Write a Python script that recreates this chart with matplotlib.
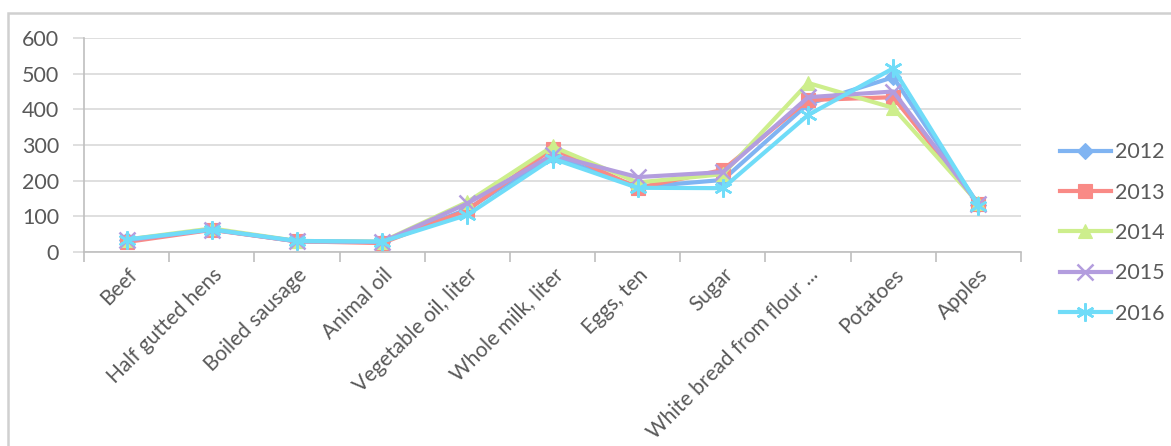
import matplotlib.pyplot as plt
from matplotlib.patches import Rectangle

categories = [
    "Beef", "Half gutted hens", "Boiled sausage", "Animal oil",
    "Vegetable oil, liter", "Whole milk, liter", "Eggs, ten", "Sugar",
    "White bread from flour ...", "Potatoes", "Apples",
]
years = ["2012", "2013", "2014", "2015", "2016"]

v2012 = [34, 63, 30, 28, 120, 270, 182, 202, 415, 490, 133]
v2013 = [28, 62, 30, 25, 117, 290, 180, 230, 426, 434, 135]
v2014 = [35, 66, 31, 29, 140, 296, 195, 218, 474, 404, 137]
v2015 = [33, 63, 30, 28, 136, 272, 210, 224, 434, 450, 134]
v2016 = [35, 63, 31, 29, 104, 262, 180, 179, 384, 515, 130]

series = [v2012, v2013, v2014, v2015, v2016]
colors = ["#80B4F2", "#F98A86", "#CDEE8C", "#B39DDE", "#70DCF8"]
markers = ["D", "s", "^", "x", (6, 2, 0)]
msizes = [8, 10, 10, 11, 13]

plt.rcParams["font.family"] = ["Lato", "DejaVu Sans"]
text_col = "#595959"

fig = plt.figure(figsize=(11.71, 4.46), dpi=100)
fig.patches.append(Rectangle((8 / 1171, -0.1), 1.2, 1.1 - 13 / 446,
                             transform=fig.transFigure, fill=False,
                             edgecolor="#D0D0D0", linewidth=1.8))

ax = fig.add_axes([84 / 1171, 1 - 252 / 446, 937 / 1171, 214 / 446])
x = list(range(len(categories)))
for vals, yr, c, m, ms in zip(series, years, colors, markers, msizes):
    ax.plot(x, vals, color=c, linewidth=3, marker=m, markersize=ms,
            markeredgewidth=1.8 if m in ("x", (6, 2, 0)) else 0.8,
            markeredgecolor=c, label=yr)

ax.set_xlim(-0.5, len(categories) - 0.5)
ax.set_ylim(0, 600)
ax.set_yticks(range(0, 601, 100))
ax.grid(axis="y", color="#D9D9D9", linewidth=1.2)
ax.set_axisbelow(True)

ax.set_xticks(x)
ax.set_xticklabels(categories, rotation=45, ha="right",
                   rotation_mode="anchor", fontsize=15, color=text_col)
ax.tick_params(axis="x", length=0, pad=9)
ax.set_xticks([i - 0.5 for i in range(len(categories) + 1)], minor=True)
ax.tick_params(axis="x", which="minor", length=7, color="#BFBFBF", width=1.2)
ax.tick_params(axis="y", length=8, color="#D9D9D9", width=1.2,
               labelsize=15.5, labelcolor=text_col, pad=10)

for side in ("top", "right"):
    ax.spines[side].set_visible(False)
ax.spines["left"].set_color("#BFBFBF")
ax.spines["bottom"].set_color("#BFBFBF")
ax.spines["left"].set_linewidth(1.2)
ax.spines["bottom"].set_linewidth(1.2)

leg = ax.legend(loc="center left", bbox_to_anchor=(1.021, 0.089),
                frameon=False, fontsize=15.5, handlelength=2.35,
                handletextpad=0.2, labelspacing=0.95)
for t in leg.get_texts():
    t.set_color(text_col)

fig.savefig("out.png", dpi=100)
